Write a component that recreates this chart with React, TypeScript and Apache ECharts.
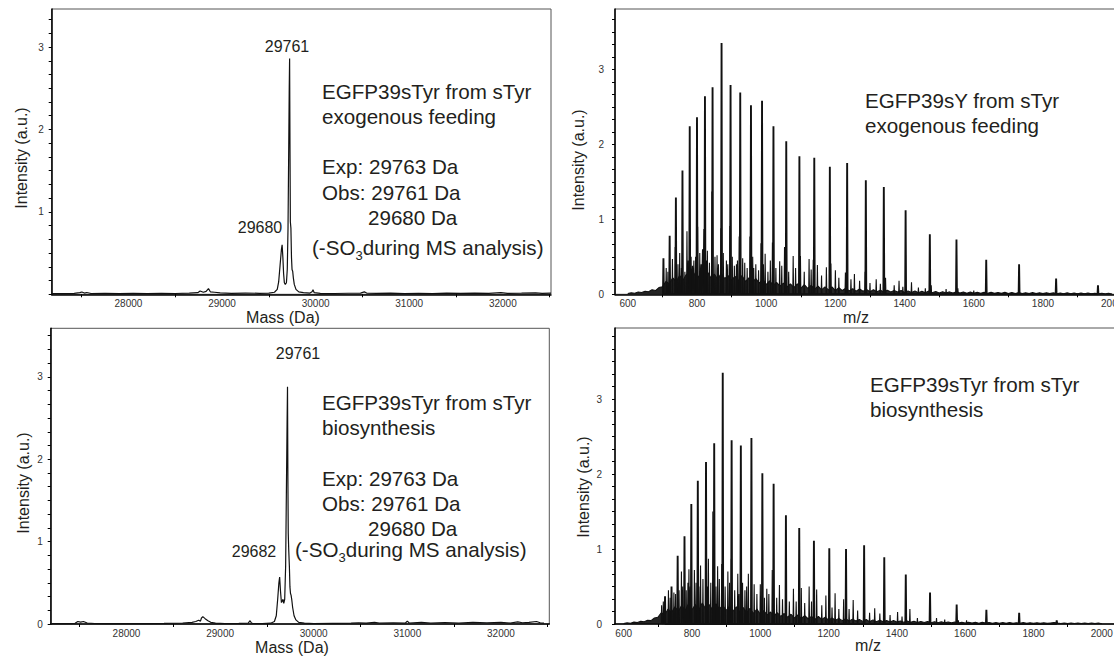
import React, { useEffect, useRef } from "react";
import * as echarts from "echarts";

// ---------------- Deconvoluted mass spectra (left panels) ----------------
const TL_MASS = [27180, 27300, 27420, 27480, 27502, 27530, 27555, 27600, 27750, 27900, 28050, 28200, 28350, 28500, 28650, 28740, 28766, 28800, 28830, 28855, 28875, 28920, 28980, 29100, 29250, 29400, 29500, 29560, 29590, 29605, 29620, 29635, 29642, 29650, 29658, 29666, 29676, 29688, 29697, 29705, 29712, 29718, 29722, 29726, 29730, 29736, 29742, 29748, 29755, 29762, 29772, 29790, 29820, 29870, 29940, 29962, 29972, 29985, 30050, 30200, 30350, 30480, 30520, 30545, 30650, 30800, 30950, 31100, 31250, 31400, 31550, 31700, 31850, 31980, 32050, 32200, 32350, 32420, 32515];
const TL_INT = [0.01, 0.008, 0.012, 0.02, 0.028, 0.015, 0.022, 0.01, 0.013, 0.009, 0.012, 0.01, 0.013, 0.01, 0.014, 0.02, 0.04, 0.025, 0.035, 0.07, 0.03, 0.025, 0.018, 0.012, 0.015, 0.012, 0.015, 0.025, 0.06, 0.15, 0.35, 0.55, 0.6, 0.45, 0.25, 0.14, 0.12, 0.14, 0.3, 0.8, 1.7, 2.5, 2.86, 1.8, 0.88, 0.8, 0.45, 0.3, 0.28, 0.2, 0.12, 0.06, 0.03, 0.02, 0.015, 0.03, 0.055, 0.02, 0.012, 0.01, 0.013, 0.015, 0.03, 0.015, 0.012, 0.014, 0.01, 0.013, 0.01, 0.014, 0.012, 0.015, 0.012, 0.02, 0.012, 0.014, 0.018, 0.012, 0.015];

const BL_MASS = [27190, 27350, 27450, 27480, 27510, 27540, 27580, 27660, 27800, 28000, 28200, 28400, 28600, 28700, 28740, 28770, 28790, 28800, 28815, 28840, 28870, 28900, 28950, 29050, 29200, 29300, 29320, 29335, 29350, 29450, 29540, 29580, 29600, 29615, 29628, 29636, 29645, 29655, 29665, 29672, 29680, 29690, 29700, 29708, 29716, 29720, 29724, 29728, 29733, 29740, 29746, 29752, 29758, 29765, 29775, 29790, 29810, 29840, 29900, 30000, 30200, 30400, 30480, 30560, 30650, 30700, 30850, 30980, 31000, 31020, 31150, 31250, 31400, 31550, 31700, 31850, 32000, 32100, 32180, 32230, 32300, 32380, 32420, 32460];
const BL_INT = [0.005, 0.005, 0.008, 0.03, 0.022, 0.03, 0.012, 0.006, 0.005, 0.006, 0.005, 0.008, 0.012, 0.02, 0.03, 0.045, 0.035, 0.07, 0.09, 0.065, 0.04, 0.02, 0.01, 0.006, 0.008, 0.012, 0.04, 0.012, 0.006, 0.006, 0.01, 0.03, 0.1, 0.3, 0.5, 0.57, 0.4, 0.26, 0.28, 0.3, 0.25, 0.3, 0.7, 1.6, 2.5, 2.88, 1.8, 1.1, 0.9, 0.7, 0.45, 0.37, 0.35, 0.3, 0.2, 0.1, 0.05, 0.02, 0.01, 0.006, 0.008, 0.01, 0.015, 0.01, 0.02, 0.012, 0.015, 0.012, 0.035, 0.012, 0.02, 0.012, 0.018, 0.012, 0.02, 0.015, 0.02, 0.012, 0.025, 0.015, 0.02, 0.03, 0.015, 0.01];

// ---------------- Raw ESI spectra (right panels) ----------------
// charge-state envelope, top-right
const TR_MAJOR_MZ = [703, 721, 739, 758, 779, 800, 823, 845, 871, 897, 925, 956, 988, 1021, 1058, 1096, 1139, 1184, 1234, 1288, 1340, 1403, 1473, 1550, 1636, 1731, 1838, 1959];
const TR_MAJOR_I = [0.48, 0.78, 1.29, 1.65, 2.24, 2.36, 2.64, 2.76, 3.35, 2.79, 2.69, 2.52, 2.58, 2.24, 2.04, 1.84, 1.82, 1.7, 1.75, 1.52, 1.43, 1.12, 0.8, 0.73, 0.46, 0.4, 0.21, 0.12];
const TR_MINOR_MZ = [711, 716, 729, 737, 745, 750, 755, 765, 771, 775, 783, 787, 791, 796, 802, 808, 812, 816, 820, 827, 830, 836, 843, 852, 858, 862, 869, 876, 885, 889, 895, 902, 908, 914, 917, 922, 932, 938, 945, 953, 961, 964, 970, 978, 985, 992, 997, 1005, 1012, 1018, 1028, 1039, 1045, 1053, 1065, 1078, 1085, 1099, 1110, 1124, 1130, 1136, 1148, 1160, 1174, 1187, 1200, 1210, 1229, 1245, 1255, 1270, 1286, 1300, 1318, 1330, 1345, 1370, 1384, 1395, 1420, 1440, 1460, 1477, 1520, 1554, 1600, 1636, 1731];
const TR_MINOR_I = [0.35, 0.3, 0.47, 0.63, 0.4, 0.55, 0.35, 0.3, 0.84, 0.45, 0.5, 0.38, 0.45, 0.5, 0.9, 0.55, 0.4, 0.6, 0.87, 0.45, 0.58, 0.42, 1.37, 0.5, 0.52, 0.4, 0.88, 0.55, 0.45, 0.4, 0.91, 0.5, 0.38, 0.4, 0.45, 0.77, 0.48, 0.42, 0.35, 0.77, 0.5, 0.35, 0.4, 0.32, 0.68, 0.4, 0.54, 0.3, 0.45, 0.69, 0.35, 0.44, 0.38, 0.63, 0.3, 0.51, 0.35, 0.51, 0.3, 0.47, 0.33, 0.46, 0.39, 0.25, 0.36, 0.41, 0.32, 0.22, 0.29, 0.2, 0.27, 0.18, 0.3, 0.15, 0.2, 0.14, 0.22, 0.12, 0.18, 0.1, 0.16, 0.09, 0.08, 0.12, 0.07, 0.08, 0.05, 0.06, 0.05];
// top of the noise band, sampled every 10 m/z from 600 to 2000
const TR_BASE = [
  0.01, 0.02, 0.015, 0.03, 0.025, 0.04, 0.035, 0.06, 0.05, 0.09,
  0.1, 0.17, 0.14, 0.22, 0.17, 0.25, 0.19, 0.27, 0.2, 0.29,
  0.21, 0.27, 0.2, 0.3, 0.22, 0.27, 0.2, 0.28, 0.21, 0.25,
  0.19, 0.24, 0.18, 0.25, 0.17, 0.22, 0.16, 0.21, 0.15, 0.2,
  0.13, 0.18, 0.12, 0.16, 0.11, 0.15, 0.1, 0.14, 0.09, 0.14,
  0.08, 0.13, 0.08, 0.12, 0.07, 0.11, 0.06, 0.1, 0.06, 0.1,
  0.05, 0.09, 0.05, 0.08, 0.045, 0.075, 0.04, 0.07, 0.04, 0.065,
  0.035, 0.06, 0.035, 0.055, 0.03, 0.055, 0.03, 0.05, 0.03, 0.05,
  0.025, 0.045, 0.025, 0.045, 0.022, 0.04, 0.02, 0.045, 0.02, 0.038,
  0.018, 0.035, 0.018, 0.032, 0.016, 0.035, 0.016, 0.03, 0.015, 0.03,
  0.013, 0.028, 0.014, 0.027, 0.012, 0.026, 0.012, 0.024, 0.012, 0.026,
  0.011, 0.024, 0.011, 0.022, 0.01, 0.02, 0.01, 0.022, 0.009, 0.02,
  0.009, 0.02, 0.009, 0.019, 0.008, 0.018, 0.008, 0.019, 0.008, 0.017,
  0.007, 0.016, 0.007, 0.017, 0.006, 0.015, 0.006, 0.014, 0.006, 0.012,
  0.005,
];

// charge-state envelope, bottom-right
const BR_MAJOR_MZ = [721, 740, 758, 778, 798, 817, 841, 865, 890, 916, 943, 974, 1006, 1039, 1075, 1114, 1157, 1202, 1251, 1304, 1363, 1426, 1497, 1575, 1662, 1758, 1868];
const BR_MAJOR_I = [0.37, 0.5, 0.91, 1.17, 1.6, 1.91, 2.16, 2.41, 3.35, 2.45, 2.38, 2.48, 2.01, 1.87, 1.45, 1.28, 1.11, 1.01, 1.0, 1.05, 0.89, 0.66, 0.42, 0.26, 0.19, 0.15, 0.05];
const BR_MINOR_MZ = [711, 716, 731, 736, 747, 752, 762, 769, 773, 783, 788, 791, 795, 807, 812, 820, 825, 832, 845, 848, 855, 861, 870, 875, 880, 887, 897, 905, 910, 915, 925, 934, 938, 948, 955, 960, 965, 982, 990, 1000, 1012, 1019, 1025, 1035, 1048, 1056, 1065, 1085, 1097, 1105, 1120, 1130, 1143, 1150, 1165, 1180, 1192, 1210, 1219, 1230, 1244, 1260, 1272, 1285, 1320, 1335, 1350, 1380, 1402, 1415, 1438, 1460, 1516, 1540, 1580, 1604];
const BR_MINOR_I = [0.25, 0.3, 0.45, 0.35, 0.42, 0.4, 0.45, 0.7, 0.5, 0.45, 0.55, 0.73, 0.5, 0.72, 0.55, 0.5, 0.78, 0.6, 0.5, 0.87, 0.55, 1.5, 0.5, 0.77, 0.6, 0.8, 0.5, 0.7, 0.55, 0.87, 0.45, 0.67, 0.4, 0.55, 0.45, 0.5, 0.67, 0.53, 0.4, 0.53, 0.35, 0.47, 0.4, 0.72, 0.35, 0.52, 0.33, 0.3, 0.47, 0.3, 0.48, 0.28, 0.5, 0.3, 0.46, 0.25, 0.38, 0.22, 0.41, 0.2, 0.33, 0.2, 0.32, 0.18, 0.15, 0.21, 0.14, 0.12, 0.16, 0.1, 0.2, 0.08, 0.08, 0.06, 0.05, 0.05];
const BR_BASE = [
  0.005, 0.015, 0.01, 0.025, 0.02, 0.035, 0.03, 0.05, 0.045, 0.08,
  0.09, 0.15, 0.12, 0.2, 0.15, 0.23, 0.17, 0.25, 0.18, 0.27,
  0.19, 0.26, 0.18, 0.28, 0.2, 0.26, 0.19, 0.27, 0.2, 0.25,
  0.18, 0.24, 0.17, 0.23, 0.16, 0.22, 0.15, 0.21, 0.14, 0.2,
  0.13, 0.18, 0.12, 0.16, 0.11, 0.15, 0.1, 0.14, 0.09, 0.13,
  0.08, 0.12, 0.075, 0.11, 0.07, 0.1, 0.06, 0.1, 0.06, 0.09,
  0.05, 0.08, 0.05, 0.075, 0.045, 0.07, 0.04, 0.065, 0.04, 0.06,
  0.035, 0.06, 0.03, 0.055, 0.03, 0.05, 0.03, 0.045, 0.028, 0.045,
  0.025, 0.04, 0.022, 0.04, 0.022, 0.036, 0.02, 0.034, 0.02, 0.032,
  0.016, 0.03, 0.016, 0.028, 0.015, 0.027, 0.015, 0.026, 0.014, 0.024,
  0.012, 0.022, 0.012, 0.022, 0.011, 0.022, 0.012, 0.02, 0.011, 0.018,
  0.01, 0.018, 0.009, 0.02, 0.009, 0.017, 0.01, 0.018, 0.009, 0.016,
  0.008, 0.016, 0.008, 0.017, 0.008, 0.014, 0.02, 0.012, 0.007, 0.014,
  0.006, 0.014, 0.006, 0.012, 0.006, 0.014, 0.005, 0.012, 0.005, 0.013,
  0.004,
];
const BASE_START = 600;
const BASE_STEP = 10;

// ---------------- Axis ticks / labels ----------------
const MASS_LABELS = [28000, 29000, 30000, 31000, 32000];
const MASS_TICKS = [27500, 28500, 29500, 30500, 31500, 32500];
const MZ_LABELS = [600, 800, 1000, 1200, 1400, 1600, 1800, 2000];
const MZ_TICKS = [700, 900, 1100, 1300, 1500, 1700, 1900];
const INT_LABELS_TL = [1, 2, 3];
const INT_LABELS = [0, 1, 2, 3];
const INT_TICK_STEP = 1 / 6;

const FONT = '"Liberation Sans", Arial, Helvetica, sans-serif';
const INK = "#231f20";
const ANN = 20.6;

function spikes(mz: number[], h: number[], hw: number) {
  const items = mz.map((m, i) => [m, h[i]]).sort((a, b) => a[0] - b[0]);
  const out: number[][] = [];
  for (const [m, v] of items) {
    out.push([m - hw, 0], [m, v], [m + hw, 0]);
  }
  return out;
}

function baseline(vals: number[]) {
  return vals.map((v, i) => [BASE_START + i * BASE_STEP, v]);
}

function pairs(x: number[], y: number[]) {
  return x.map((v, i) => [v, y[i]]);
}

function intTicks(max: number) {
  const t: number[] = [];
  for (let k = 0; k * INT_TICK_STEP <= max; k++) t.push(k * INT_TICK_STEP);
  return t;
}

const plain = (v: number) => String(v);

function xAxis(gridIndex: number, min: number, max: number, labels: number[], ticks: number[]) {
  return {
    gridIndex,
    type: "value",
    min,
    max,
    axisLine: { show: true, onZero: true, lineStyle: { color: "#000", width: 1.5 } },
    axisTick: { show: true, length: 3, customValues: ticks, lineStyle: { color: "#000", width: 1 } },
    axisLabel: { customValues: labels, formatter: plain, fontSize: 10, color: "#333", margin: 4, fontFamily: FONT },
    splitLine: { show: false },
  };
}

function yAxis(gridIndex: number, max: number, labels: number[], margin: number) {
  return {
    gridIndex,
    type: "value",
    min: 0,
    max,
    axisLine: { show: true, lineStyle: { color: "#000", width: 1.5 } },
    axisTick: { show: true, length: 3, customValues: intTicks(max), lineStyle: { color: "#000", width: 1 } },
    axisLabel: { customValues: labels, formatter: plain, fontSize: 10, color: "#333", margin, fontFamily: FONT },
    splitLine: { show: false },
  };
}

function txt(x: number, y: number, text: string, size: number, align = "left") {
  return {
    type: "text",
    x,
    y,
    silent: true,
    style: { text, fill: INK, fontSize: size, fontFamily: FONT, align, verticalAlign: "middle" },
  };
}

function vtxt(x: number, y: number, text: string) {
  return {
    type: "text",
    x,
    y,
    rotation: Math.PI / 2,
    silent: true,
    style: { text, fill: INK, fontSize: 16, fontFamily: FONT, align: "center", verticalAlign: "middle" },
  };
}

function so3(x: number, y: number) {
  return {
    type: "text",
    x,
    y,
    silent: true,
    style: {
      text: "{a|(-SO}{b|3}{a|during MS analysis)}",
      fill: INK,
      align: "left",
      verticalAlign: "middle",
      rich: {
        a: { fontSize: ANN, fontFamily: FONT, lineHeight: 30, verticalAlign: "middle", fill: INK },
        b: { fontSize: 13, fontFamily: FONT, lineHeight: 12, verticalAlign: "bottom", fill: INK },
      },
    },
  };
}

function grid(left: number, top: number, width: number, height: number) {
  return {
    left,
    top,
    width,
    height,
    containLabel: false,
    outerBoundsMode: "none",
    show: true,
    borderColor: "#555",
    borderWidth: 1,
  };
}

export default function App() {
  const ref = useRef<HTMLDivElement>(null);

  useEffect(() => {
    document.body.style.margin = "0";
    if (!ref.current) return;
    const chart = echarts.init(ref.current, null, { renderer: "svg" });

    const lineSeries = (xi: number, data: number[][], width: number, fill = false) => ({
      type: "line",
      xAxisIndex: xi,
      yAxisIndex: xi,
      data,
      showSymbol: false,
      symbol: "none",
      smooth: false,
      lineStyle: { color: "#111", width },
      areaStyle: fill ? { color: "#111", opacity: 0.92 } : undefined,
      silent: true,
    });

    const option = {
      animation: false,
      backgroundColor: "#fff",
      grid: [
        grid(51.7, 9, 499.3, 285.3),
        grid(615, 9, 502, 285.3),
        grid(50.7, 328.3, 498.6, 295.7),
        grid(615, 328, 502, 296),
      ],
      xAxis: [
        xAxis(0, 27180, 32515, MASS_LABELS, MASS_TICKS),
        xAxis(1, 563, 2014, MZ_LABELS, MZ_TICKS),
        xAxis(2, 27190, 32517, MASS_LABELS, MASS_TICKS),
        xAxis(3, 574.5, 2044.5, MZ_LABELS, MZ_TICKS),
      ],
      yAxis: [
        yAxis(0, 3.462, INT_LABELS_TL, 8),
        yAxis(1, 3.804, INT_LABELS, 11),
        yAxis(2, 3.589, INT_LABELS, 8),
        yAxis(3, 3.947, INT_LABELS, 13),
      ],
      series: [
        lineSeries(0, pairs(TL_MASS, TL_INT), 1.2),
        lineSeries(1, baseline(TR_BASE), 1.1, true),
        lineSeries(1, spikes(TR_MINOR_MZ, TR_MINOR_I, 1.2), 1.1),
        lineSeries(1, spikes(TR_MAJOR_MZ, TR_MAJOR_I, 1.3), 1.9),
        lineSeries(2, pairs(BL_MASS, BL_INT), 1.2),
        lineSeries(3, baseline(BR_BASE), 1.1, true),
        lineSeries(3, spikes(BR_MINOR_MZ, BR_MINOR_I, 1.2), 1.1),
        lineSeries(3, spikes(BR_MAJOR_MZ, BR_MAJOR_I, 1.3), 1.9),
      ],
      graphic: [
        // axis titles
        txt(283, 317, "Mass (Da)", 16, "center"),
        txt(856, 317, "m/z", 16, "center"),
        txt(292, 647, "Mass (Da)", 16, "center"),
        txt(868, 645, "m/z", 16, "center"),
        vtxt(21, 158, "Intensity (a.u.)"),
        vtxt(578, 160, "Intensity (a.u.)"),
        vtxt(23, 483, "Intensity (a.u.)"),
        vtxt(583, 487, "Intensity (a.u.)"),
        // top-left annotations
        txt(287, 46, "29761", 16, "center"),
        txt(260, 227, "29680", 16, "center"),
        txt(322, 91, "EGFP39sTyr from sTyr", ANN),
        txt(322, 116, "exogenous feeding", ANN),
        txt(322, 166, "Exp: 29763 Da", ANN),
        txt(322, 192, "Obs: 29761 Da", ANN),
        txt(368, 217, "29680 Da", ANN),
        so3(312, 247),
        // top-right
        txt(865, 100, "EGFP39sY from sTyr", ANN),
        txt(865, 125, "exogenous feeding", ANN),
        // bottom-left
        txt(298, 353, "29761", 16, "center"),
        txt(254, 551, "29682", 16, "center"),
        txt(322, 402, "EGFP39sTyr from sTyr", ANN),
        txt(322, 427, "biosynthesis", ANN),
        txt(322, 478, "Exp: 29763 Da", ANN),
        txt(322, 503, "Obs: 29761 Da", ANN),
        txt(368, 528, "29680 Da", ANN),
        so3(295, 549),
        // bottom-right
        txt(870, 384, "EGFP39sTyr from sTyr", ANN),
        txt(870, 409, "biosynthesis", ANN),
      ],
    };

    chart.setOption(option as any);
    return () => chart.dispose();
  }, []);

  return <div ref={ref} style={{ width: 1114, height: 656 }} />;
}
